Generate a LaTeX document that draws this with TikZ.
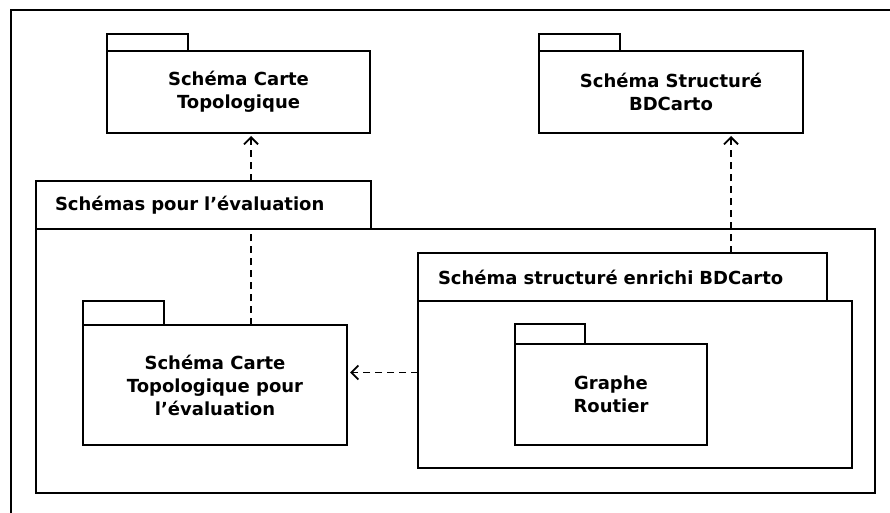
\documentclass[tikz,border=0pt]{standalone}
\usepackage{fontspec}
\setmainfont{DejaVu Sans}
\usetikzlibrary{arrows.meta,positioning,backgrounds}

\begin{document}
\begin{tikzpicture}[
  x=1pt, y=-1pt,
  pkg/.style={
    draw,
    line width=2pt,
    outer sep=0pt,
    inner sep=0pt,
    align=center,
    font=\fontsize{18}{23}\selectfont\bfseries
  },
  pkgtab/.style={
    draw,
    fill=white,
    line width=2pt,
    outer sep=0pt,
    inner sep=0pt
  },
  titletab/.style={
    pkgtab,
    inner xsep=20pt,
    minimum height=48pt,
    align=left,
    font=\fontsize{18}{23}\selectfont\bfseries
  },
  dep/.style={
    line width=1.8pt,
    dash pattern=on 7pt off 5pt,
    shorten >=3pt,
    -{Straight Barb[length=7pt,width=14pt]}
  }
]
  \useasboundingbox (0,0) rectangle (890,513);

  % outer frame (cut at right and bottom)
  \draw[line width=2pt] (890,10) -| (11,513);

  % top packages
  \node[pkg, minimum width=263pt, minimum height=82pt] (topo) at (238.5,92) {Schéma Carte\\Topologique};
  \node[pkgtab, minimum width=81pt, minimum height=17pt, above right=0pt and 0pt of topo.north west] (topotab) {};

  \node[pkg, minimum width=264pt, minimum height=82pt] (struct) at (671,92) {Schéma Structuré\\BDCarto};
  \node[pkgtab, minimum width=81pt, minimum height=17pt, above right=0pt and 0pt of struct.north west] (structtab) {};

  % evaluation package
  \node[pkg, minimum width=839pt, minimum height=264pt] (evalbody) at (455.5,361) {};
  \node[titletab, inner xsep=19pt, text width=297pt, above right=0pt and 0pt of evalbody.north west] (evaltab) {Schémas pour l’évaluation};

  \node[pkg, minimum width=264pt, minimum height=120pt] (topoeval) at (215,385) {Schéma Carte\\Topologique pour\\l’évaluation};
  \node[pkgtab, minimum width=81pt, minimum height=24pt, above right=0pt and 0pt of topoeval.north west] (topoevaltab) {};

  % enriched package
  \node[pkg, minimum width=434pt, minimum height=167pt] (enrbody) at (635,384.5) {};
  \node[titletab, text width=369pt, above right=0pt and 0pt of enrbody.north west] (enrtab) {Schéma structuré enrichi BDCarto};

  \node[pkg, minimum width=192pt, minimum height=101pt] (graphe) at (611,394.5) {Graphe\\Routier};
  \node[pkgtab, minimum width=70pt, minimum height=20pt, above right=0pt and 0pt of graphe.north west] (graphetab) {};

  % dependencies
  \begin{scope}[on background layer]
    \draw[dep] ([xshift=36pt]topoeval.north) -- ([xshift=36pt]topoeval.north |- topo.south);
    \draw[dep] ([yshift=12pt]enrbody.west) -- ([yshift=12pt]enrbody.west -| topoeval.east);
    \draw[dep] ([xshift=60pt]struct.south |- enrtab.north) -- ([xshift=60pt]struct.south);
  \end{scope}

\end{tikzpicture}
\end{document}
